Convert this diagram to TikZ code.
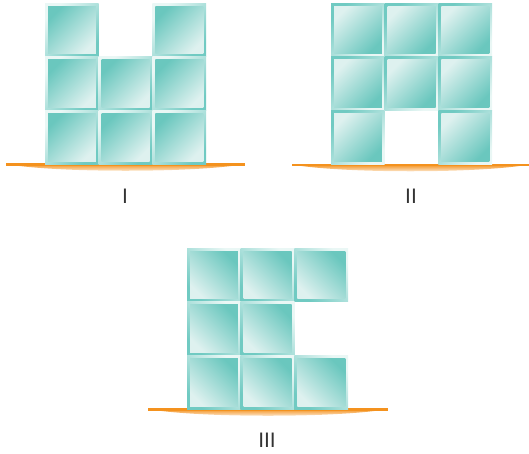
\documentclass[tikz,border=0pt]{standalone}
\usepackage{fontspec}
\setmainfont{Liberation Sans}
\definecolor{cubeteal}{RGB}{106,199,190}
\definecolor{cubelight}{RGB}{222,241,239}
\definecolor{rimlight}{RGB}{234,247,245}
\definecolor{rimdark}{RGB}{112,202,194}
\definecolor{gnd}{RGB}{244,146,30}
\definecolor{lblcol}{RGB}{51,51,51}
\tikzset{
  pics/cube/.style={code={
    \shade[top color=rimlight,bottom color=rimdark,shading angle=#1] (0,0) rectangle (53.7,53.7);
    \shade[top color=cubeteal,bottom color=cubelight,shading angle=#1] (3,3) rectangle (50.9,50.9);
  }},
  lbl/.style={font=\fontsize{21}{21}\selectfont, text=lblcol, inner sep=0pt},
}
\newcommand\groundline[3]{%
  \shade[top color=gnd, bottom color=white] (#1,#3) -- (#2,#3) .. controls (#2-50,#3+9) and (#1+50,#3+9) .. (#1,#3) -- cycle;
  \draw[gnd, line width=2.4pt] (#1,#3+0.6) -- (#2,#3+0.6);
}
\begin{document}
\begin{tikzpicture}[x=1pt,y=-1pt]
\useasboundingbox (0,0) rectangle (529,453);
% Figure I
\groundline{6}{245}{164}
\foreach \c/\r in {0/0,2/0,0/1,1/1,2/1,0/2,1/2,2/2}
  \pic at ({45+53.7*\c},{3+53.7*\r}) {cube=45};
\node[lbl] (labI) at (125,196) {I};
% Figure II
\groundline{292}{529}{164.5}
\foreach \c/\r in {0/0,1/0,2/0,0/1,1/1,2/1,0/2,2/2}
  \pic at ({331+53.7*\c},{3+53.7*\r}) {cube=225};
\node[lbl] (labII) at (411,196) {II};
% Figure III
\groundline{148}{388}{409}
\foreach \c/\r in {0/0,1/0,2/0,0/1,1/1,0/2,1/2,2/2}
  \pic at ({187+53.7*\c},{248+53.7*\r}) {cube=-45};
\node[lbl] (labIII) at (267,440) {III};
\end{tikzpicture}
\end{document}
